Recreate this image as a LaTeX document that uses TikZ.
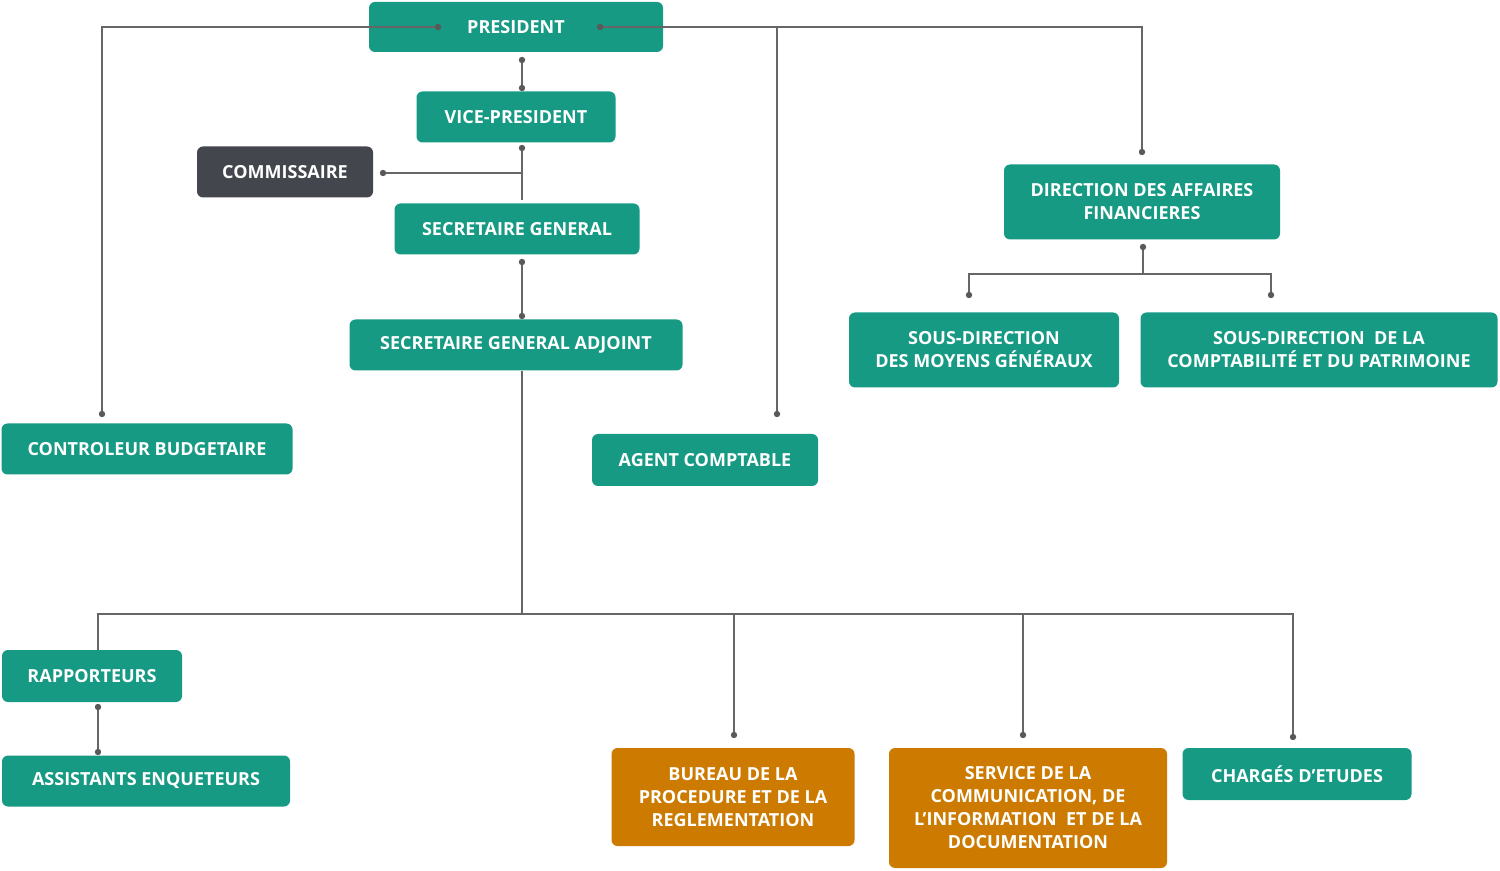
\documentclass[tikz,border=0pt]{standalone}
\usepackage{fontspec}
\setmainfont{Open Sans}
\begin{document}
\begin{tikzpicture}[x=0.5pt,y=-0.5pt,
  box/.style={fill=teal0,rounded corners=3pt,text=white,font=\fontsize{9}{11.5}\selectfont\bfseries,align=center,inner sep=0pt,anchor=center},
  obox/.style={box,fill=orange0},
  ln/.style={draw=gray!80!black,line width=0.6pt},
  dot/.style={circle,fill=gray!70!black,inner sep=0pt,minimum size=3.2pt}]
\definecolor{teal0}{HTML}{169A84}
\definecolor{orange0}{HTML}{CC7A00}
\definecolor{dark0}{HTML}{43474D}
\useasboundingbox (0,0) rectangle (1500,871);
\node[box,minimum width=147pt*0.5*2,minimum height=25pt] (pres) at (516,27) {PRESIDENT};
\node[box,minimum width=99.5pt,minimum height=25.5pt] (vp) at (516,117) {VICE-PRESIDENT};
\node[box,fill=dark0,minimum width=88pt,minimum height=25.5pt] (com) at (285,172) {COMMISSAIRE};
\node[box,minimum width=122.5pt,minimum height=25.5pt] (sg) at (517,229) {SECRETAIRE GENERAL};
\node[box,minimum width=166.5pt,minimum height=25.5pt] (sga) at (516,345) {SECRETAIRE GENERAL ADJOINT};
\node[box,minimum width=145.5pt,minimum height=25.5pt] (cb) at (147,449) {CONTROLEUR BUDGETAIRE};
\node[box,minimum width=113pt,minimum height=26pt] (ac) at (705,460) {AGENT COMPTABLE};
\node[box,minimum width=138pt,minimum height=37.5pt] (daf) at (1142,202) {DIRECTION DES AFFAIRES\\FINANCIERES};
\node[box,minimum width=135pt,minimum height=37.5pt] (smg) at (984,350) {SOUS-DIRECTION\\DES MOYENS GÉNÉRAUX};
\node[box,minimum width=178.5pt,minimum height=37.5pt] (scp) at (1319,350) {SOUS-DIRECTION\ \ DE LA\\COMPTABILITÉ ET DU PATRIMOINE};
\node[box,minimum width=90pt,minimum height=26pt] (rap) at (92,676) {RAPPORTEURS};
\node[box,minimum width=144pt,minimum height=25.5pt] (ass) at (146,781) {ASSISTANTS ENQUETEURS};
\node[obox,minimum width=121.5pt,minimum height=49pt] (bur) at (733,797) {BUREAU DE LA\\PROCEDURE ET DE LA\\REGLEMENTATION};
\node[obox,minimum width=139pt,minimum height=60pt] (ser) at (1028,808) {SERVICE DE LA\\COMMUNICATION, DE\\L'INFORMATION\ \ ET DE LA\\DOCUMENTATION};
\node[box,minimum width=114.5pt,minimum height=26pt] (cha) at (1297,774) {CHARGÉS D'ETUDES};
% coordinates
\coordinate (pl) at (438,27); \coordinate (cbt) at (102,414);
\coordinate (pr) at (600,27); \coordinate (dft) at (1142,152); \coordinate (act) at (777,414);
\coordinate (pb) at (522,60); \coordinate (vt) at (522,88);
\coordinate (vb) at (522,148); \coordinate (sgt) at (522,200); \coordinate (cr) at (383,173);
\coordinate (sgb) at (522,262); \coordinate (sgat) at (522,316);
\coordinate (sgab) at (522,371); \coordinate (hub) at (522,614);
\coordinate (rt) at (98,650); \coordinate (bt) at (734,735); \coordinate (st) at (1023,735); \coordinate (ct) at (1293,737);
\coordinate (rb) at (98,707); \coordinate (at) at (98,752);
\coordinate (db) at (1143,247); \coordinate (m1) at (969,295); \coordinate (m2) at (1271,295);
\draw[ln] (pl) -| (cbt);
\draw[ln] (pr) -| (dft);
\draw[ln] (pr -| act) -- (act);
\draw[ln] (pb) -- (vt);
\draw[ln] (vb) -- (sgt);
\draw[ln] (cr) -- (cr -| vb);
\draw[ln] (sgb) -- (sgat);
\draw[ln] (sgab) -- (hub);
\draw[ln] (rt) |- (hub) -| (ct);
\draw[ln] (hub -| bt) -- (bt);
\draw[ln] (hub -| st) -- (st);
\draw[ln] (rb) -- (at);
\draw[ln] (db) -- (1143,274) -| (m1);
\draw[ln] (1143,274) -| (m2);
\foreach \c in {pl,cbt,pr,dft,act,pb,vt,vb,cr,sgb,sgat,bt,st,ct,rb,at,db,m1,m2}
  \node[dot] at (\c) {};
\end{tikzpicture}
\end{document}
